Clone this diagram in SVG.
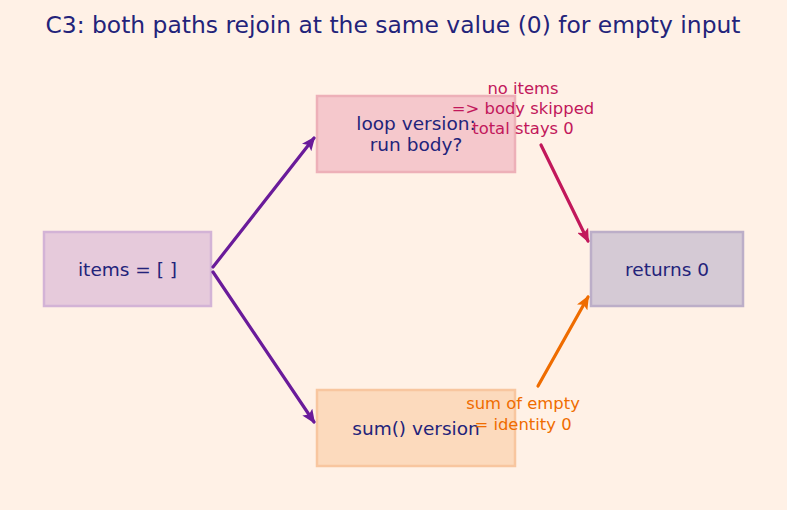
<svg xmlns="http://www.w3.org/2000/svg" width="787" height="510" viewBox="0 0 787 510">
<style>
.node rect{stroke-width:2.5}
.nt{font-family:"DejaVu Sans",sans-serif;font-size:18.5px;fill:#23237a;text-anchor:middle;dominant-baseline:central}
.lbl{font-family:"DejaVu Sans",sans-serif;font-size:16.4px;text-anchor:middle;dominant-baseline:central}
.edge{fill:none;stroke-width:3.2;stroke-linecap:round}
</style>
<defs>
<marker id="hp" markerUnits="userSpaceOnUse" markerWidth="14" markerHeight="12" refX="12" refY="6" orient="auto" viewBox="0 0 14 12"><path d="M0,0 L14,6 L0,12 L3,6 z" fill="#6A1B9A"/></marker>
<marker id="hc" markerUnits="userSpaceOnUse" markerWidth="14" markerHeight="12" refX="12" refY="6" orient="auto" viewBox="0 0 14 12"><path d="M0,0 L14,6 L0,12 L3,6 z" fill="#C2185B"/></marker>
<marker id="ho" markerUnits="userSpaceOnUse" markerWidth="14" markerHeight="12" refX="12" refY="6" orient="auto" viewBox="0 0 14 12"><path d="M0,0 L14,6 L0,12 L3,6 z" fill="#EF6C00"/></marker>
</defs>
<rect width="787" height="510" fill="#FFF1E6"/>
<text x="393" y="25" font-family="DejaVu Sans, sans-serif" font-size="23.4" fill="#23237a" text-anchor="middle" dominant-baseline="central">C3: both paths rejoin at the same value (0) for empty input</text>
<g id="n-items" class="node"><rect x="44" y="232" width="167" height="74" fill="#E6CADB" stroke="#D3B3D6"/><text class="nt" x="127.5" y="269">items = [ ]</text></g>
<g id="n-loop" class="node"><rect x="317" y="96" width="198" height="76" fill="#F5C8CC" stroke="#EDB0B8"/><text class="nt" x="416" y="123">loop version:</text><text class="nt" x="416" y="144">run body?</text></g>
<g id="n-sum" class="node"><rect x="317" y="390" width="198" height="76" fill="#FCDABD" stroke="#F8C69F"/><text class="nt" x="416" y="428">sum() version</text></g>
<g id="n-ret" class="node"><rect x="591" y="232" width="152" height="74" fill="#D5CAD5" stroke="#BCAEC8"/><text class="nt" x="667" y="269">returns 0</text></g>
<g id="edges">
<line class="edge" x1="213" y1="267" x2="314" y2="138" stroke="#6A1B9A" marker-end="url(#hp)"/>
<line class="edge" x1="213" y1="272" x2="314" y2="422" stroke="#6A1B9A" marker-end="url(#hp)"/>
<line class="edge" x1="541" y1="145" x2="588" y2="241" stroke="#C2185B" marker-end="url(#hc)"/>
<line class="edge" x1="538" y1="386" x2="588" y2="297" stroke="#EF6C00" marker-end="url(#ho)"/>
</g>
<g id="labels">
<text class="lbl" fill="#C2185B" x="523" y="88">no items</text>
<text class="lbl" fill="#C2185B" x="523" y="108">=&gt; body skipped</text>
<text class="lbl" fill="#C2185B" x="523" y="128">total stays 0</text>
<text class="lbl" fill="#EF6C00" x="523" y="403">sum of empty</text>
<text class="lbl" fill="#EF6C00" x="523" y="424">= identity 0</text>
</g>
</svg>
